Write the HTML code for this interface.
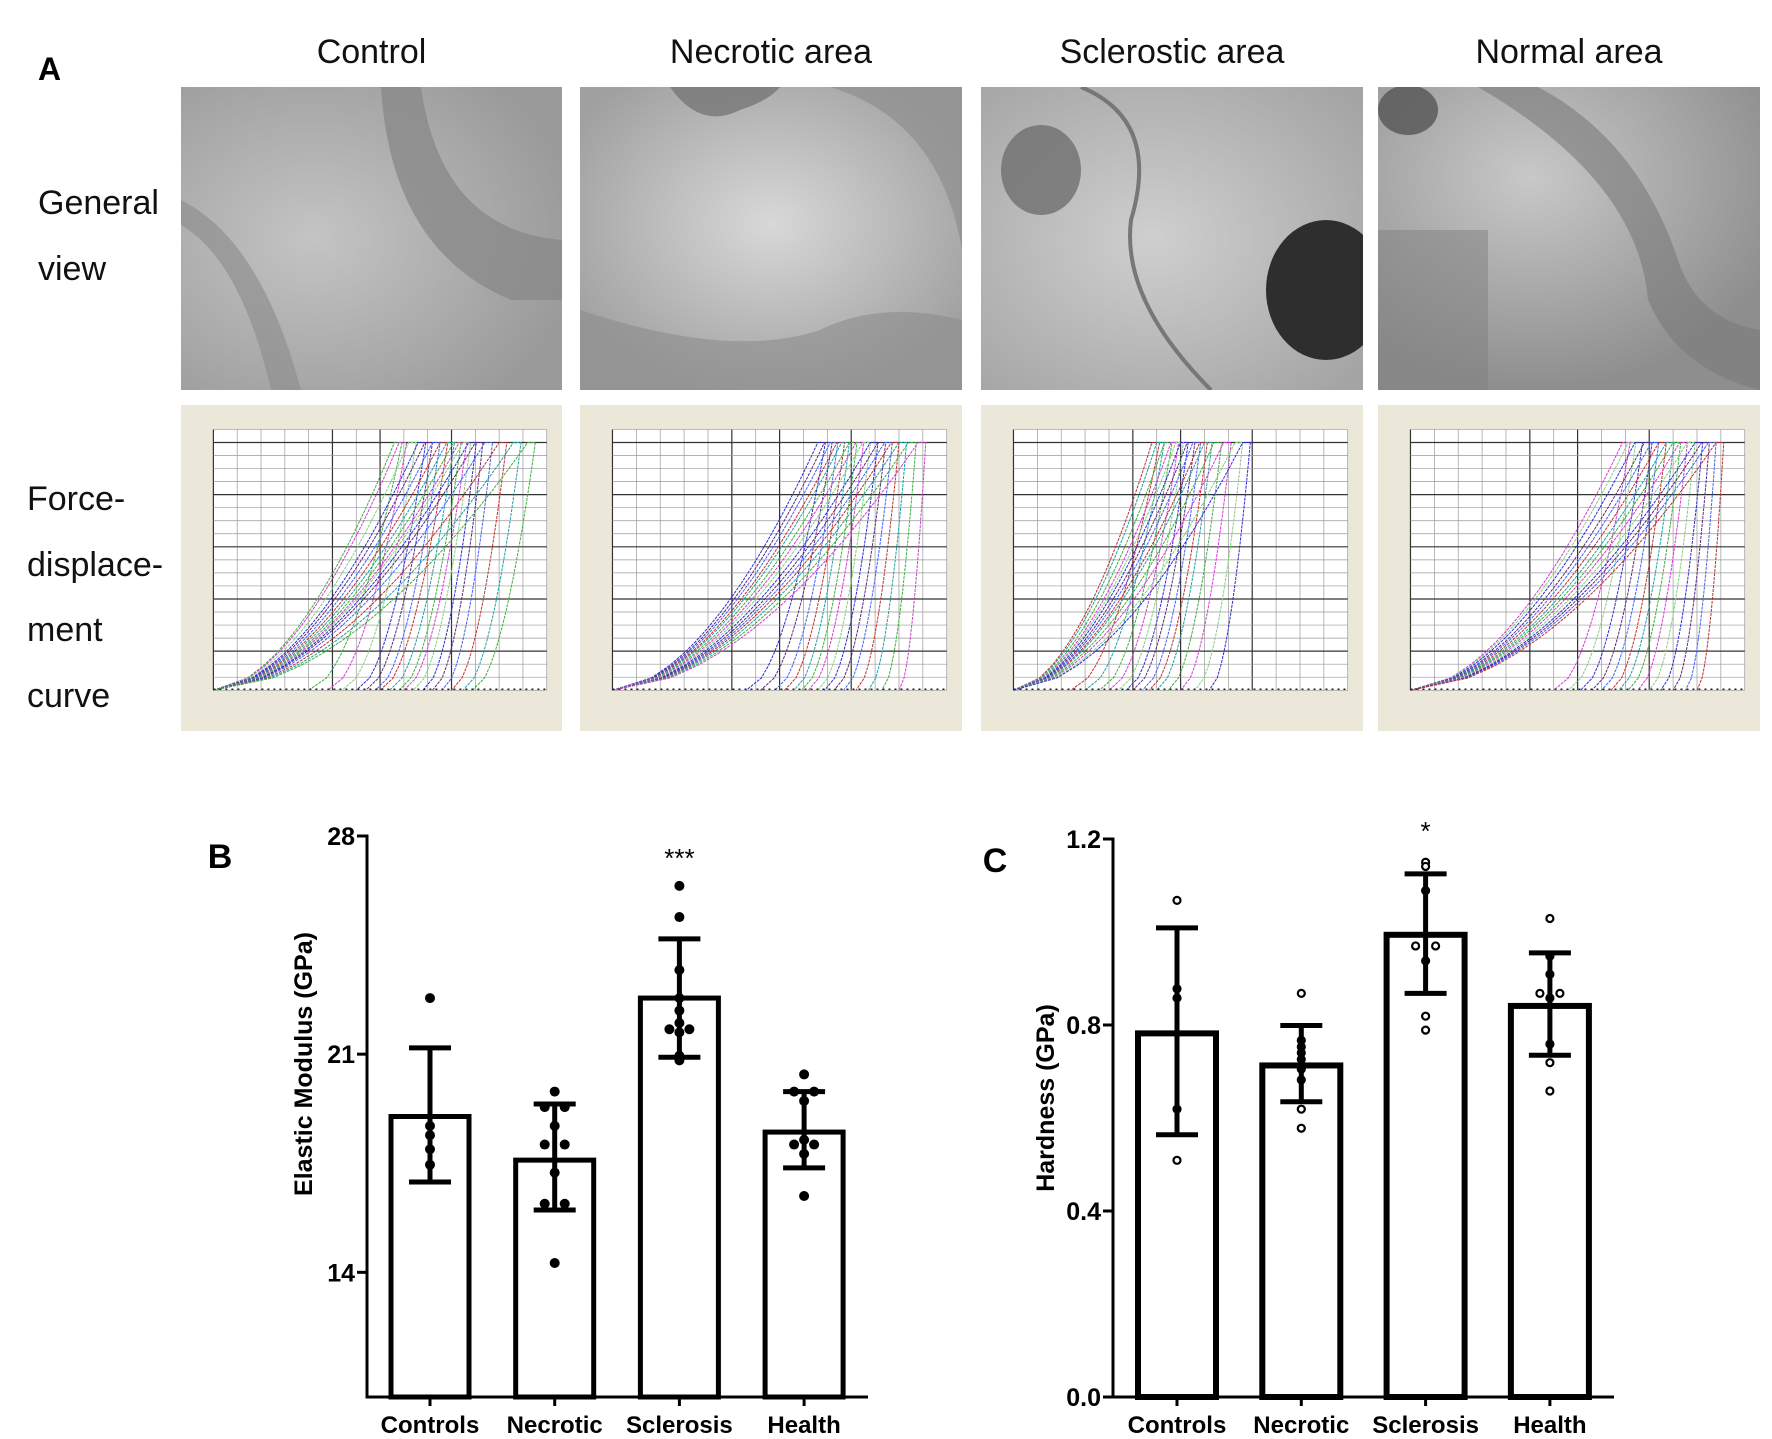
<!DOCTYPE html>
<html><head><meta charset="utf-8">
<style>
html,body{margin:0;padding:0;background:#fff;}
svg{display:block;}
.ta{font-family:"Liberation Sans",sans-serif;font-size:34px;fill:#111;}
.bold{font-family:"Liberation Sans",sans-serif;font-weight:bold;fill:#000;}
</style></head>
<body>
<svg id="fig" width="1772" height="1439" viewBox="0 0 1772 1439" xmlns="http://www.w3.org/2000/svg">
<defs>
<radialGradient id="g1" cx="0.35" cy="0.5" r="0.7"><stop offset="0" stop-color="#c4c4c4"/><stop offset="1" stop-color="#9a9a9a"/></radialGradient>
<radialGradient id="g2" cx="0.5" cy="0.45" r="0.6"><stop offset="0" stop-color="#d8d8d8"/><stop offset="1" stop-color="#a0a0a0"/></radialGradient>
<radialGradient id="g3" cx="0.45" cy="0.5" r="0.7"><stop offset="0" stop-color="#cfcfcf"/><stop offset="1" stop-color="#a4a4a4"/></radialGradient>
<radialGradient id="g4" cx="0.4" cy="0.3" r="0.7"><stop offset="0" stop-color="#c8c8c8"/><stop offset="1" stop-color="#8e8e8e"/></radialGradient>
<clipPath id="c0"><rect x="181" y="87" width="381" height="303"/></clipPath>
<clipPath id="c1"><rect x="580" y="87" width="382" height="303"/></clipPath>
<clipPath id="c2"><rect x="981" y="87" width="382" height="303"/></clipPath>
<clipPath id="c3"><rect x="1378" y="87" width="382" height="303"/></clipPath>
</defs>
<g id="panelA"></g>
<g id="chartB"></g>
<g id="chartC"></g>
</svg>
<script>
// ---------- Chart B data ----------
const catsB = ['Controls','Necrotic','Sclerosis','Health'];
const meansB = [19.0, 17.6, 22.8, 18.5];
const errHiB = [21.2, 19.4, 24.7, 19.8];
const errLoB = [16.9, 16.0, 20.9, 17.35];
const ptsB = [
  [22.8, 18.7, 18.4, 17.95, 17.45],
  [19.8, 19.3, 19.3, 18.7, 18.1, 18.1, 17.2, 16.2, 16.2, 14.3],
  [26.4, 25.4, 23.7, 22.8, 22.4, 22.0, 21.8, 21.8, 21.7, 20.95, 20.8],
  [20.35, 19.8, 19.8, 19.5, 18.25, 18.1, 18.1, 17.8, 16.45]
];
const ticksB = [14, 21, 28];
const tickLabelsB = ['14', '21', '28'];
// ---------- Chart C data ----------
const catsC = ['Controls','Necrotic','Sclerosis','Health'];
const meansC = [0.782, 0.713, 0.994, 0.841];
const errHiC = [1.009, 0.799, 1.125, 0.955];
const errLoC = [0.564, 0.635, 0.868, 0.735];
const ptsC = [
  [1.068, 0.878, 0.858, 0.619, 0.509],
  [0.868, 0.767, 0.753, 0.740, 0.726, 0.705, 0.682, 0.619, 0.578],
  [1.150, 1.141, 1.089, 0.970, 0.970, 0.938, 0.819, 0.789],
  [1.029, 0.948, 0.909, 0.868, 0.868, 0.858, 0.759, 0.719, 0.658]
];
const ticksC = [0, 0.4, 0.8, 1.2];
const tickLabelsC = ['0.0', '0.4', '0.8', '1.2'];
// ---------- Panel A curve data (peak and unload-end displacement, nm) ----------
const peaksA = [
  [190,195,205,215,222,230,238,245,252,258,262,268,275,285,300,315,330],
  [215,222,228,235,240,248,255,262,270,278,285,292,300,310,320],
  [145,150,158,165,170,175,182,188,195,200,210,220,232,240],
  [222,228,235,245,252,260,268,275,282,290,298,305,312,320]
];
const unloadA = [
  [100,120,135,150,160,170,175,185,195,200,210,220,230,240,250,262,272],
  [140,155,170,180,190,198,205,215,222,232,242,255,268,282,300],
  [60,75,90,100,110,118,125,135,142,150,162,175,190,205],
  [150,165,178,190,200,210,218,228,238,250,262,275,288,300]
];

const NS='http://www.w3.org/2000/svg';
function el(tag, attrs, parent){const e=document.createElementNS(NS,tag);for(const k in attrs)e.setAttribute(k,attrs[k]);parent.appendChild(e);return e;}

// ---------- Panel A ----------
const A=document.getElementById('panelA');
let t=el('text',{x:38,y:80,'font-family':'Liberation Sans, sans-serif','font-weight':'bold','font-size':32},A);t.textContent='A';

const colTitles=['Control','Necrotic area','Sclerostic area','Normal area'];
const colX=[[181,562],[580,962],[981,1363],[1378,1760]];
const grads=['url(#g1)','url(#g2)','url(#g3)','url(#g4)'];
const colors=['#3fae3f','#2b2bd6','#c03030','#d43cd4','#5a2a7a','#20a0a0','#80d080','#4060ff'];
colTitles.forEach((c,i)=>{
  const [x0,x1]=colX[i];const w=x1-x0;
  const tt=el('text',{x:(x0+x1)/2,y:63,'text-anchor':'middle',class:'ta'},A);tt.textContent=c;
  
  const ph=el('g',{'clip-path':'url(#c'+i+')'},A);
  
  el('rect',{x:x0,y:87,width:w,height:303,fill:grads[i]},ph);
  if(i===0){el('path',{d:`M${x0+200},87 Q${x0+210},250 ${x0+330},300 L${x0+381},300 L${x0+381},240 Q${x0+260},230 ${x0+240},87 Z`,fill:'#8a8a8a',opacity:0.8},ph);
    el('path',{d:`M${x0},200 Q${x0+80},240 ${x0+120},390 L${x0+90},390 Q${x0+60},260 ${x0},225Z`,fill:'#909090',opacity:0.7},ph);}
  if(i===1){el('path',{d:`M${x0+90},87 Q${x0+120},130 ${x0+160},110 Q${x0+190},100 ${x0+200},87Z`,fill:'#777',opacity:0.8},ph);
    el('path',{d:`M${x0+250},87 Q${x0+360},120 ${x0+382},250 L${x0+382},87Z`,fill:'#8f8f8f',opacity:0.7},ph);
    el('path',{d:`M${x0},310 Q${x0+150},360 ${x0+240},330 Q${x0+300},300 ${x0+382},320 L${x0+382},390 L${x0},390Z`,fill:'#8c8c8c',opacity:0.6},ph);}
  if(i===2){el('ellipse',{cx:x0+345,cy:290,rx:60,ry:70,fill:'#2e2e2e'},ph);
    el('ellipse',{cx:x0+60,cy:170,rx:40,ry:45,fill:'#6f6f6f',opacity:0.8},ph);
    el('path',{d:`M${x0+100},87 Q${x0+180},120 ${x0+150},220 Q${x0+140},300 ${x0+230},390`,stroke:'#777',fill:'none','stroke-width':4},ph);}
  if(i===3){el('ellipse',{cx:x0+30,cy:110,rx:30,ry:25,fill:'#555',opacity:0.8},ph);
    el('path',{d:`M${x0+100},87 Q${x0+260},180 ${x0+270},300 Q${x0+300},370 ${x0+382},390 L${x0+382},330 Q${x0+320},320 ${x0+300},260 Q${x0+260},140 ${x0+160},87Z`,fill:'#7a7a7a',opacity:0.6},ph);
    el('rect',{x:x0,y:230,width:110,height:160,fill:'#7f7f7f',opacity:0.5},ph);}
  const fg=el('g',{},A);
  
  const py0=405,phh=326;
  el('rect',{x:x0,y:py0,width:w,height:phh,fill:'#ebe8da'},fg);
  const px=x0+0.085*w, py=py0+0.075*phh, pw=0.875*w, pH=0.80*phh;
  el('rect',{x:px,y:py,width:pw,height:pH,fill:'#fff'},fg);
  for(let k=0;k<=14;k++){const xx=px+pw*k/14;el('line',{x1:xx,y1:py,x2:xx,y2:py+pH,stroke:(k%5===0||k===7)?'#333':'#999','stroke-width':(k%5===0||k===7)?1.2:0.7},fg);}
  for(let k=0;k<=20;k++){const yy=py+pH*k/20;el('line',{x1:px,y1:yy,x2:px+pw,y2:yy,stroke:(k%4===1)?'#333':'#999','stroke-width':(k%4===1)?1.2:0.7},fg);}
  const sx=v=>px+pw*v/350, sy=f=>py+pH-pH*f/1000;
  peaksA[i].forEach((p,j)=>{
    const u=unloadA[i][j];const col=colors[(j*3+i)%colors.length];
    let d='';
    for(let s=0;s<=20;s++){const f=950*s/20;const x=p*Math.pow(f/950,1/1.8);d+=(s?'L':'M')+sx(x).toFixed(1)+','+sy(f).toFixed(1);}
    d+='L'+sx(p+8).toFixed(1)+','+sy(950).toFixed(1);
    for(let s=20;s>=0;s--){const f=950*s/20;const x=u+(p+8-u)*Math.pow(f/950,0.55);d+='L'+sx(x).toFixed(1)+','+sy(f).toFixed(1);}
    const pth=el('path',{d:d,fill:'none',stroke:col,'stroke-width':1,'stroke-dasharray':'3,1'},fg);
    
  });
  el('line',{x1:px,y1:py+pH-1,x2:px+pw,y2:py+pH-1,stroke:'#222','stroke-width':1.5,'stroke-dasharray':'2,4'},fg);
});
const rowLabels=[['General',214],['view',280],['Force-',510],['displace-',576],['ment',641],['curve',707]];
rowLabels.forEach((r,i)=>{const tt=el('text',{x:i<2?38:27,y:r[1],class:'ta'},A);tt.textContent=r[0];
  });

// ---------- Bar chart helper ----------
function drawChart(gid,cfg){
  const g=document.getElementById(gid);
  const y=v=>cfg.y0-(v-cfg.min)/(cfg.max-cfg.min)*(cfg.y0-cfg.yTop);
  const x=i=>cfg.x1+cfg.step*i;
  cfg.cats.forEach((c,i)=>{
    const b=el('rect',{x:x(i)-39,y:y(cfg.means[i]),width:78,height:cfg.y0-y(cfg.means[i]),fill:'#fff',stroke:'#000','stroke-width':cfg.bw},g);
    
  });
  cfg.cats.forEach((c,i)=>{
    const vals=cfg.pts[i];const seen={};
    vals.forEach(v=>{seen[v]=(seen[v]||0)+1;});
    const used={};
    vals.forEach(v=>{
      const n=seen[v];used[v]=(used[v]||0);const k=used[v]++;
      const off=(k-(n-1)/2)*(n>1?20:0);
      const p=el('circle',cfg.hollow?{cx:x(i)+off,cy:y(v),r:3.5,fill:'#fff',stroke:'#000','stroke-width':2.2}:{cx:x(i)+off,cy:y(v),r:5,fill:'#000'},g);
      
    });
  });
  cfg.cats.forEach((c,i)=>{
    const e=el('g',{},g);
    
    el('line',{x1:x(i),y1:y(cfg.hi[i]),x2:x(i),y2:y(cfg.lo[i]),stroke:'#000','stroke-width':5},e);
    el('line',{x1:x(i)-21,y1:y(cfg.hi[i]),x2:x(i)+21,y2:y(cfg.hi[i]),stroke:'#000','stroke-width':5},e);
    el('line',{x1:x(i)-21,y1:y(cfg.lo[i]),x2:x(i)+21,y2:y(cfg.lo[i]),stroke:'#000','stroke-width':5},e);
  });
  const ya=el('line',{x1:cfg.ax,y1:cfg.yTop-1.5,x2:cfg.ax,y2:cfg.y0+1.5,stroke:'#000','stroke-width':3},g);
  
  const xa=el('line',{x1:cfg.ax,y1:cfg.y0,x2:cfg.axEnd,y2:cfg.y0,stroke:'#000','stroke-width':3},g);
  
  cfg.ticks.forEach((tv,k)=>{
    el('line',{x1:cfg.ax-10,y1:y(tv),x2:cfg.ax,y2:y(tv),stroke:'#000','stroke-width':3},g);
    const tl=el('text',{x:cfg.ax-12,y:y(tv)+9,'text-anchor':'end',class:'bold','font-size':25},g);
    tl.textContent=cfg.tickLabels[k];
    
  });
  cfg.cats.forEach((c,i)=>{
    el('line',{x1:x(i),y1:cfg.y0,x2:x(i),y2:cfg.y0+9,stroke:'#000','stroke-width':3},g);
    const cl=el('text',{x:x(i),y:1433,'text-anchor':'middle',class:'bold','font-size':24},g);
    cl.textContent=c;
    
  });
  const yl=el('text',{x:cfg.ylx,y:cfg.yly,'text-anchor':'middle',class:'bold','font-size':25,transform:`rotate(-90 ${cfg.ylx} ${cfg.yly})`},g);
  yl.textContent=cfg.ylabel;
  
  const pl=el('text',{x:cfg.lx,y:cfg.ly,'text-anchor':'middle',class:'bold','font-size':34},g);
  pl.textContent=cfg.letter;
  
  const st=el('text',{x:x(2),y:cfg.sy,'text-anchor':'middle','font-family':'Liberation Sans, sans-serif','font-size':26},g);
  st.textContent=cfg.star;
  
}
drawChart('chartB',{cats:catsB,means:meansB,hi:errHiB,lo:errLoB,pts:ptsB,ticks:ticksB,tickLabels:tickLabelsB,
  min:10,max:28,y0:1397,yTop:836,x1:430,step:124.7,ax:367,axEnd:868,bw:5,hollow:false,
  ylabel:'Elastic Modulus (GPa)',ylx:312,yly:1064,letter:'B',lx:220,ly:868,star:'***',sy:867});
drawChart('chartC',{cats:catsC,means:meansC,hi:errHiC,lo:errLoC,pts:ptsC,ticks:ticksC,tickLabels:tickLabelsC,
  min:0,max:1.2,y0:1397,yTop:839,x1:1177,step:124.3,ax:1113,axEnd:1614,bw:6,hollow:true,
  ylabel:'Hardness (GPa)',ylx:1054,yly:1098,letter:'C',lx:995,ly:872,star:'*',sy:840});
</script>
</body></html>
